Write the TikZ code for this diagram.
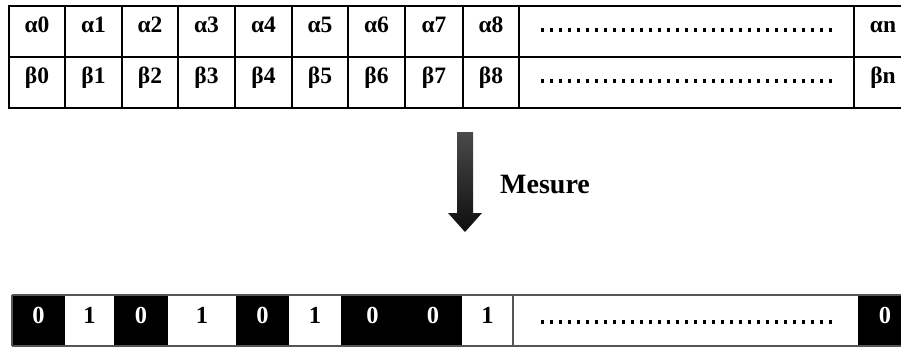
\documentclass[tikz,border=0pt]{standalone}
\usepackage{fontspec}
\setmainfont{Liberation Serif}
\definecolor{rowgray}{HTML}{555555}
\definecolor{arrowtop}{HTML}{4A4A4A}
\definecolor{arrowbot}{HTML}{0E0E0E}
\begin{document}
\begin{tikzpicture}[x=1pt,y=-1pt,
  tcell/.style={draw=black,line width=1.4pt,inner sep=0pt,outer sep=0pt,minimum height=51pt},
  bcell/.style={draw=none,inner sep=0pt,outer sep=0pt,minimum height=51pt},
  lab/.style={inner sep=0pt,anchor=base,font=\fontsize{23.5}{27}\selectfont\bfseries},
  blab/.style={inner sep=0pt,anchor=base,font=\fontsize{24.5}{28}\selectfont\bfseries},
  dots/.style={line width=3.4pt,dash pattern=on 3.4pt off 5.6pt},
  bline/.style={draw=rowgray,line width=1.4pt}]
\useasboundingbox (0,0) rectangle (901,349);

% upper table: alpha row and beta row
\foreach \l/\r [count=\i from 0] in {9/65,65/122,122/178,178/235,235/292,292/348,348/405,405/463,463/519,519/854,854/912}{
  \node[tcell,minimum width={(\r-\l)*1pt}] (a\i) at ({(\l+\r)/2},31.5) {};
  \node[tcell,minimum width={(\r-\l)*1pt}] (b\i) at ({(\l+\r)/2},82.5) {};
}
\foreach \i in {0,...,8}{
  \node[lab] (la\i) at ([yshift=-0.5pt]a\i.center) {α\i};
  \node[lab] (lb\i) at ([yshift=-0.5pt]b\i.center) {β\i};
}
\node[lab] (lan) at ([yshift=-0.5pt]a10.center) {αn};
\node[lab] (lbn) at ([yshift=-0.5pt]b10.center) {βn};
\coordinate (da1) at (541,30);
\coordinate (da2) at (834,30);
\coordinate (db1) at (541,81);
\coordinate (db2) at (834,81);
\draw[dots] (da1) -- (da2);
\draw[dots] (db1) -- (db2);

% measurement arrow
\shade[top color=arrowtop,bottom color=arrowbot]
  (457,132) -- (473,132) -- (473,213) -- (482,213) -- (465,232)
  -- (448,213) -- (457,213) -- cycle;
\node[inner sep=0pt,anchor=base west,font=\fontsize{28}{32}\selectfont\bfseries] (mes) at (500,193) {Mesure};

% measured bits
\foreach \l/\r/\c/\t/\v [count=\i from 0] in
  {12/65/black/white/0,65/114/white/black/1,114/168/black/white/0,
   168/236/white/black/1,236/289/black/white/0,289/341/white/black/1,
   341/404/black/white/0,404/462/black/white/0,462/513/white/black/1,
   513/858/white/black/,858/912/black/white/0}{
  \node[bcell,fill=\c,minimum width={(\r-\l)*1pt}] (c\i) at ({(\l+\r)/2},320.5) {};
  \node[blab,text=\t] (lc\i) at ([yshift=-2.5pt]c\i.center) {\v};
}
\draw[bline] (c0.north west) -- (c10.north east);
\draw[bline] (c0.south west) -- (c10.south east);
\draw[bline] (c0.north west) -- (c0.south west);
\draw[bline] (c9.north west) -- (c9.south west);
\coordinate (dc1) at (541,322);
\coordinate (dc2) at (834,322);
\draw[dots] (dc1) -- (dc2);
\end{tikzpicture}
\end{document}
